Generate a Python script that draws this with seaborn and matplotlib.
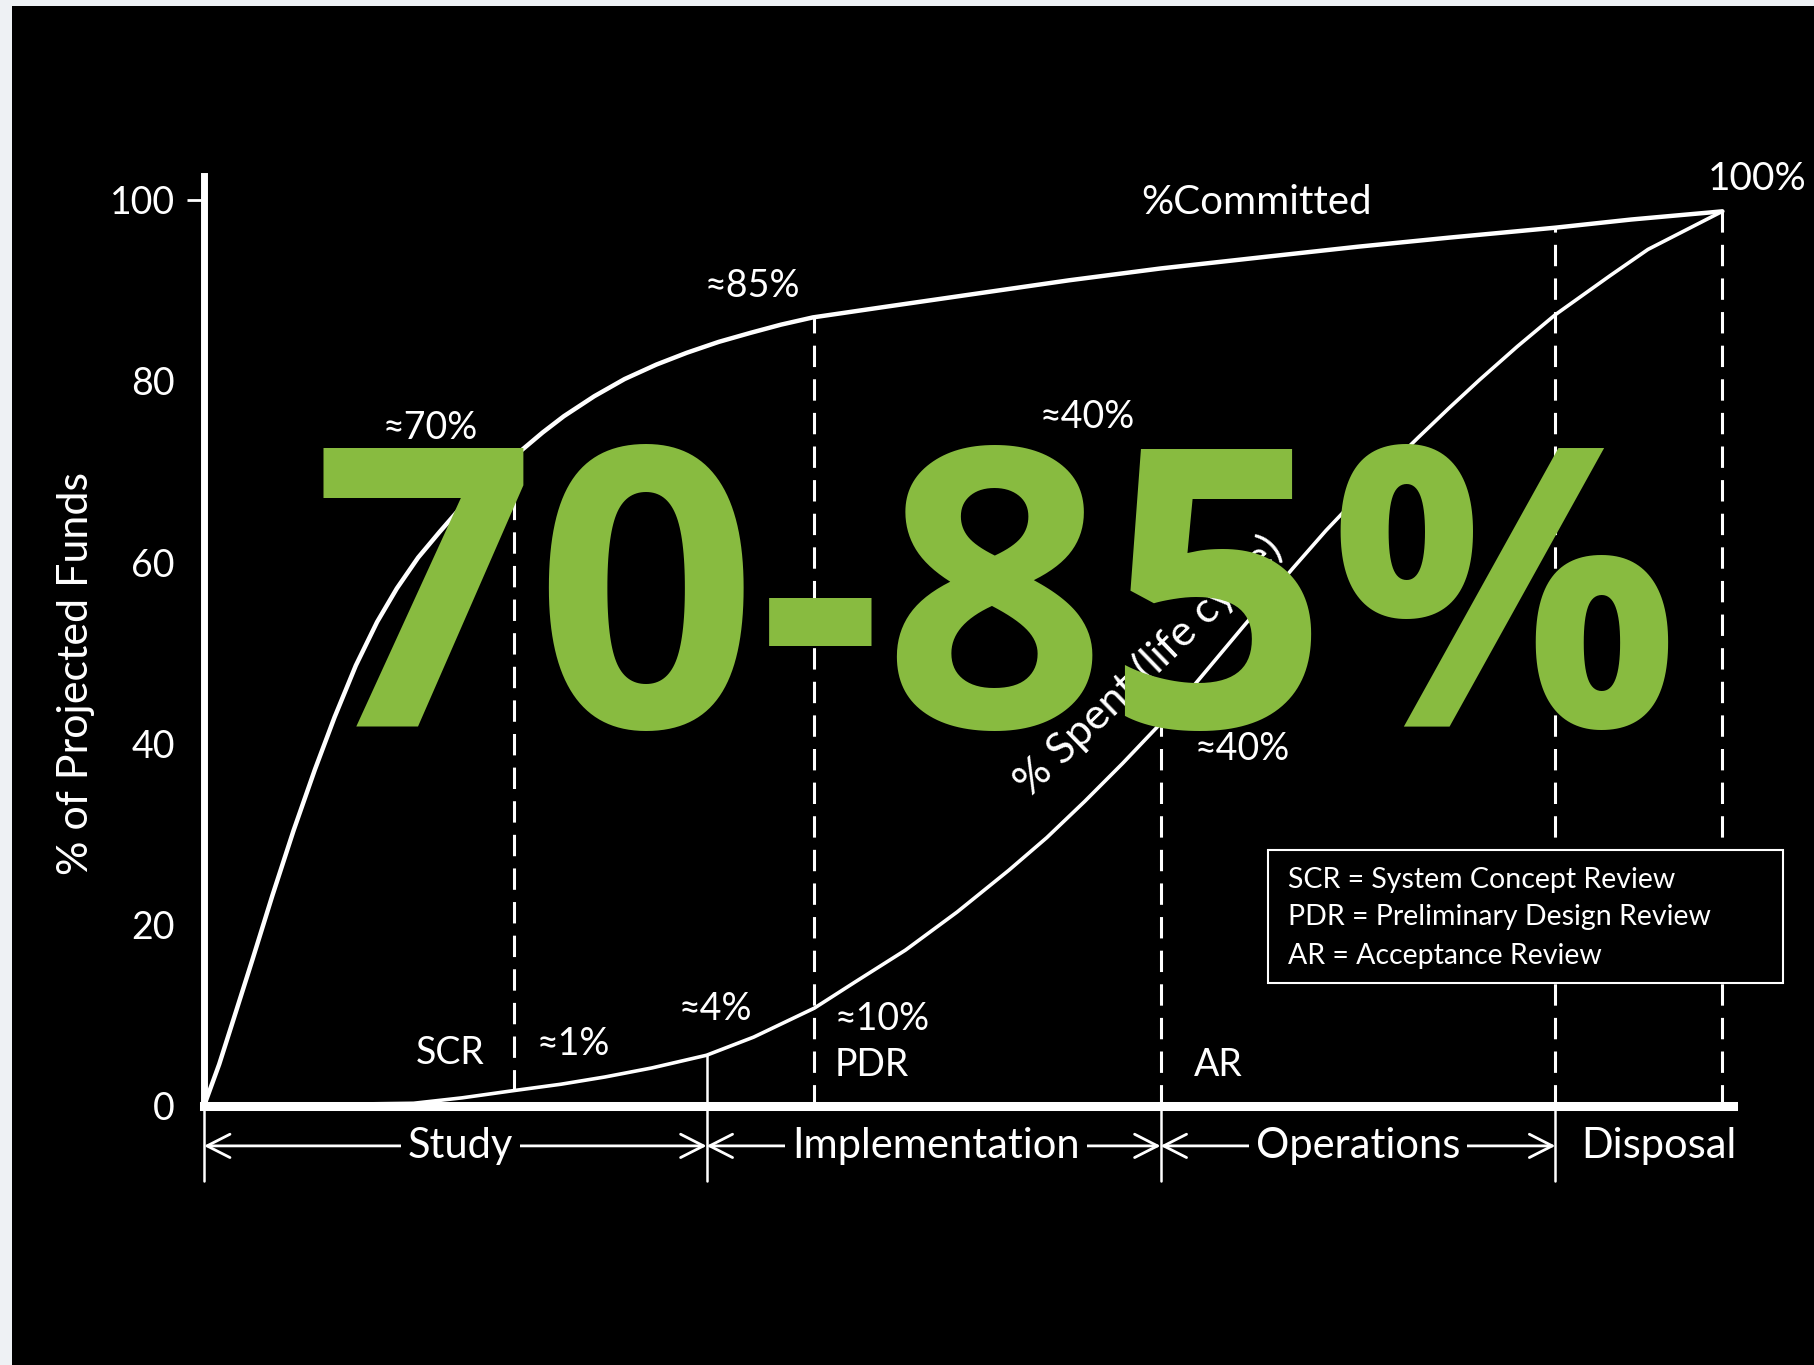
import numpy as np
import matplotlib.pyplot as plt
from matplotlib.patches import Rectangle
import seaborn as sns

# time along the life cycle (0 = start, 100 = end of disposal)
TIME_COMMITTED = [0, 1.0, 1.8, 3.2, 4.5, 5.9, 7.3, 8.6, 10.0, 11.4, 12.7, 14.1,
                  15.5, 16.8, 18.2, 19.6, 20.6, 22.3, 23.7, 25.7, 27.7, 29.8,
                  31.8, 33.9, 36.0, 38.0, 40.1, 45.0, 51.2, 57.0, 63.0, 70.0,
                  76.0, 82.0, 89.0, 94.0, 100]
PCT_COMMITTED = [0, 4.6, 8.8, 16.2, 23.2, 30.4, 37.1, 42.9, 48.6, 53.4, 57.1, 60.5,
                 63.3, 65.8, 68.2, 70.4, 71.9, 74.3, 76.1, 78.3, 80.2, 81.8,
                 83.1, 84.3, 85.3, 86.2, 87.0, 88.2, 89.7, 91.1, 92.4, 93.7,
                 94.8, 95.8, 96.9, 97.8, 98.7]

TIME_SPENT = [0, 13.8, 17.0, 20.4, 23.5, 26.4, 29.5, 33.1, 36.2, 40.2, 42.9,
              46.2, 49.6, 53.0, 55.5, 58.0, 60.5, 63.0, 65.1, 68.4, 71.7,
              73.9, 76.4, 80.0, 82.0, 84.0, 86.5, 89.0, 92.6, 95.1, 100]
PCT_SPENT = [0, 0.3, 0.9, 1.7, 2.4, 3.2, 4.2, 5.6, 7.6, 10.8, 13.7,
             17.2, 21.4, 26.0, 29.6, 33.6, 37.8, 42.2, 46.2, 52.8, 59.3,
             63.5, 67.9, 73.8, 77.0, 80.1, 83.8, 87.3, 91.6, 94.5, 98.7]

PHASES = ["Study", "Implementation", "Operations", "Disposal"]
PHASE_EDGES = [0, 33.1, 63.0, 89.0, 100]

REVIEWS = ["SCR", "PDR", "AR"]
REVIEW_TIME = [20.4, 40.2, 63.0]

YTICKS = [0, 20, 40, 60, 80, 100]

LEGEND_LINES = [
    "SCR = System Concept Review",
    "PDR = Preliminary Design Review",
    "AR = Acceptance Review",
]

HEADLINE = "70-85%"

W, H = 1815, 1365
GREEN = "#88bb40"
FONT = ["Lato", "DejaVu Sans"]

sns.set_style("dark", rc={"axes.facecolor": "black", "axes.grid": False})
plt.rcParams["font.family"] = FONT

fig = plt.figure(figsize=(W / 100, H / 100), dpi=100)
fig.patch.set_facecolor("#eef1f4")
fig.patches.append(Rectangle((12 / W, 0), 1, 1 - 6 / H, transform=fig.transFigure,
                             facecolor="black", edgecolor="none", zorder=-10))

ax = fig.add_axes([204 / W, 1 - 1106 / H, 1529 / W, 930 / H])
ax.set_facecolor("black")

sns.lineplot(x=TIME_COMMITTED, y=PCT_COMMITTED, color="white", lw=3.2,
             estimator=None, sort=False, ax=ax, zorder=3,
             solid_joinstyle="round", solid_capstyle="round")
sns.lineplot(x=TIME_SPENT, y=PCT_SPENT, color="white", lw=2.6,
             estimator=None, sort=False, ax=ax, zorder=3,
             solid_joinstyle="round", solid_capstyle="round")

ax.set_xlim(0, 100.7)
ax.set_ylim(0, 102.6)

for side in ["top", "right"]:
    ax.spines[side].set_visible(False)
ax.spines["left"].set_color("white")
ax.spines["left"].set_linewidth(5)
ax.spines["bottom"].set_color("white")
ax.spines["bottom"].set_linewidth(6.5)

ax.set_xticks([])
ax.set_yticks(YTICKS)
ax.set_yticklabels([str(t) for t in YTICKS])
ax.tick_params(axis="y", colors="white", labelsize=27, length=12, width=2, pad=9,
               left=True)
for t, tick in zip(YTICKS, ax.yaxis.get_major_ticks()):
    tick.tick1line.set_visible(t == 100)

ax.text(-0.084, 0.465, "% of Projected Funds", transform=ax.transAxes,
        rotation=90, ha="center", va="center", color="white", fontsize=31)


def committed_at(t):
    return float(np.interp(t, TIME_COMMITTED, PCT_COMMITTED))


def spent_at(t):
    return float(np.interp(t, TIME_SPENT, PCT_SPENT))


# dashed milestone lines
dash_kw = dict(color="white", lw=2.2, linestyle=(0, (7, 4)), zorder=2)
ax.plot([REVIEW_TIME[0]] * 2, [spent_at(REVIEW_TIME[0]), committed_at(REVIEW_TIME[0])], **dash_kw)
ax.plot([REVIEW_TIME[1]] * 2, [0, committed_at(REVIEW_TIME[1])], **dash_kw)
ax.plot([REVIEW_TIME[2]] * 2, [0, spent_at(REVIEW_TIME[2])], **dash_kw)
for t in PHASE_EDGES[3:]:
    ax.plot([t, t], [0, committed_at(t)], **dash_kw)

# solid phase separators, running below the axis
y_low = -8.3
solid_kw = dict(color="white", lw=1.8, clip_on=False, zorder=2)
ax.plot([PHASE_EDGES[0]] * 2, [y_low, 0], **solid_kw)
ax.plot([PHASE_EDGES[1]] * 2, [y_low, spent_at(PHASE_EDGES[1])], **solid_kw)
for t in PHASE_EDGES[2:4]:
    ax.plot([t, t], [y_low, 0], **solid_kw)

# phase arrows and names
y_arrow = -4.4
label_x = [16.9, 48.2, 76.0, 95.8]
for i, name in enumerate(PHASES):
    x0, x1 = PHASE_EDGES[i], PHASE_EDGES[i + 1]
    if name != "Disposal":
        ax.annotate("", xy=(x0, y_arrow), xytext=(x1, y_arrow),
                    arrowprops=dict(arrowstyle="<->,head_length=0.55,head_width=0.28",
                                    color="white", lw=2, shrinkA=0, shrinkB=0,
                                    mutation_scale=30),
                    annotation_clip=False)
    ax.text(label_x[i], y_arrow, name, ha="center", va="center", color="white",
            fontsize=30, clip_on=False, zorder=5,
            bbox=dict(facecolor="black", edgecolor="none", pad=5))

# review labels and point labels
notes = [
    ("SCR", 16.2, 5.8), ("PDR", 44.0, 4.5), ("AR", 66.8, 4.5),
    ("≈70%", 14.9, 74.8), ("≈85%", 36.1, 90.5), ("≈40%", 58.2, 76.0),
    ("≈40%", 68.4, 39.4), ("≈4%", 33.7, 10.7), ("≈10%", 44.7, 9.6),
    ("≈1%", 24.3, 6.8),
]
for txt, x, y in notes:
    ax.text(x, y, txt, ha="center", va="center", color="white", fontsize=27,
            zorder=4)

ax.text(69.3, 99.7, "%Committed", ha="center", va="center", color="white",
        fontsize=29, zorder=4)
ax.text(102.3, 102.3, "100%", ha="center", va="center", color="white",
        fontsize=28, clip_on=False, zorder=4)
ax.text(62.2, 48.6, "% Spent (life cycle)", ha="center", va="center",
        rotation=44, rotation_mode="anchor", color="white", fontsize=31, zorder=4)

# legend box
ax.add_patch(Rectangle((0.696, 0.1323), 0.3367, 0.143, transform=ax.transAxes,
                       facecolor="black", edgecolor="white", lw=1.5,
                       clip_on=False, zorder=6))
for line, y in zip(LEGEND_LINES, [0.243, 0.203, 0.161]):
    ax.text(0.709, y, line, transform=ax.transAxes, ha="left", va="center",
            color="white", fontsize=20.5, zorder=7)

# big headline
fig.text(997 / W, 1 - 727 / H, HEADLINE, ha="center", va="baseline",
         color=GREEN, fontsize=281, fontweight="bold", family="Open Sans",
         zorder=20)

fig.savefig("out.png", dpi=100, facecolor=fig.get_facecolor())
